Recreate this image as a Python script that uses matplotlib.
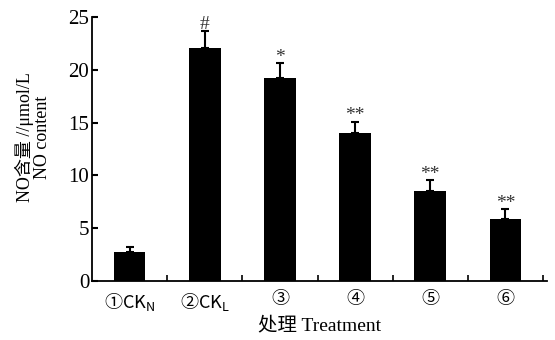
import matplotlib
matplotlib.use('Agg')
import matplotlib.pyplot as plt

plt.rcParams['font.family'] = ['Liberation Serif', 'Noto Sans CJK SC', 'DejaVu Sans']
plt.rcParams['mathtext.fontset'] = 'custom'
plt.rcParams['mathtext.rm'] = 'Noto Sans CJK SC'

# 数据
labels = ['①CK$_{\\rm N}$', '②CK$_{\\rm L}$', '③', '④', '⑤', '⑥']
values = [2.77, 22.06, 19.25, 14.04, 8.55, 5.87]
errors = [0.48, 1.64, 1.35, 1.04, 1.01, 0.92]
marks = ['', '#', '*', '**', '**', '**']

fig = plt.figure(figsize=(5.55, 3.4), dpi=100)
ax = fig.add_axes([0.166, 0.174, 0.819, 0.776])

x = list(range(len(values)))
ax.bar(x, values, width=0.42, color='black', zorder=2)
ax.errorbar(x, values, yerr=[[0] * len(errors), errors], fmt='none',
            ecolor='black', elinewidth=1.5, capsize=3, capthick=1.5, zorder=3)

for i in x:
    if marks[i]:
        ax.annotate(marks[i], (i, values[i] + errors[i]), xytext=(0, -2),
                    textcoords='offset points', ha='center', va='bottom',
                    fontsize=14, color='#333333')

ax.set_xlim(-0.5, 5.55)
ax.set_ylim(0, 25)
ax.set_yticks([0, 5, 10, 15, 20, 25])
ax.set_xticks(x)
ax.set_xticklabels(labels)
for lab in ax.get_xticklabels():
    if '$' in lab.get_text():
        lab.set_fontfamily('Noto Sans CJK SC')
ax.set_xticks([i + 0.5 for i in x], minor=True)
ax.tick_params(axis='x', which='major', length=0, pad=7, labelsize=13)
ax.tick_params(axis='x', which='minor', direction='in', length=4, width=1.2)
ax.tick_params(axis='y', direction='in', length=4, width=1.5, labelsize=15, pad=2)

for s in ['top', 'right']:
    ax.spines[s].set_visible(False)
for s in ['left', 'bottom']:
    ax.spines[s].set_linewidth(1.3)

ax.set_xlabel('处理 Treatment', fontsize=14, labelpad=3)
ax.set_ylabel('NO含量 //μmol/L\nNO content', fontsize=13, linespacing=1.0)
ax.yaxis.set_label_coords(-0.09, 0.545)

plt.savefig('out.png', dpi=100)
